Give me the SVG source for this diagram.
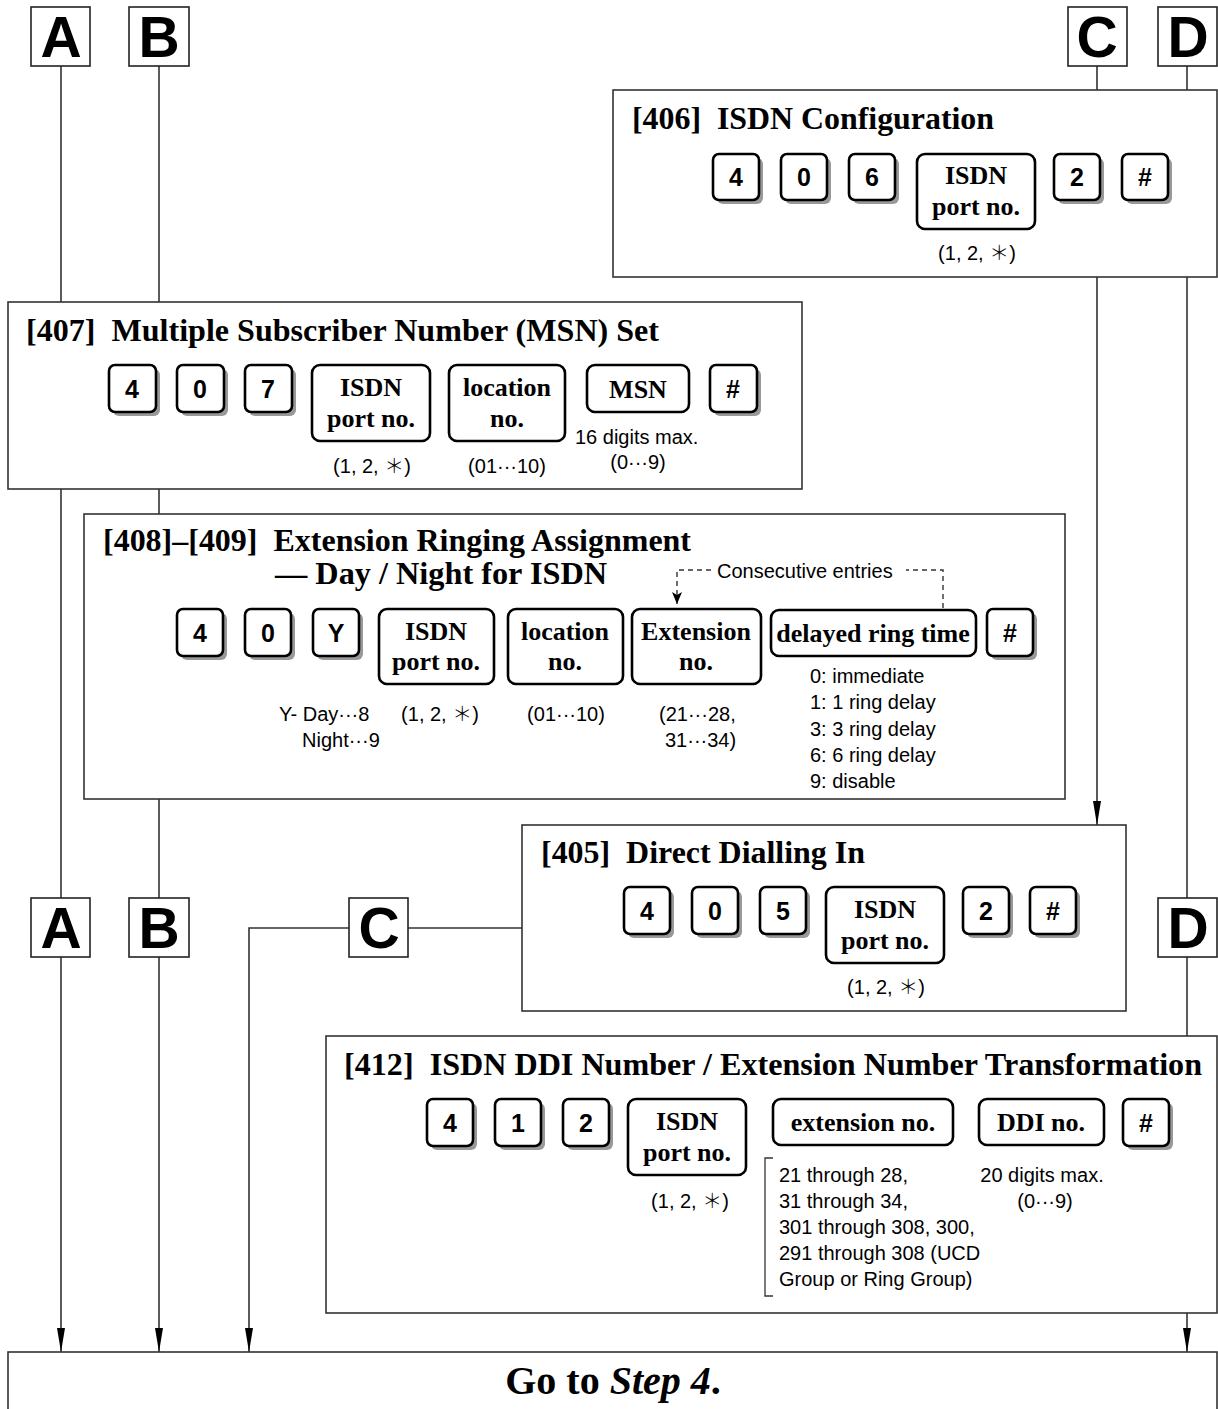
<svg xmlns="http://www.w3.org/2000/svg" width="1218" height="1409" viewBox="0 0 1218 1409">
<style>
.frame{fill:#fff;stroke:#333;stroke-width:1.6}
.lbox{fill:#fff;stroke:#222;stroke-width:1.6}
.big{font-family:"Liberation Sans",Arial,sans-serif;font-weight:bold;font-size:57px;text-anchor:middle;fill:#000}
.title{font-family:"Liberation Serif","Times New Roman",serif;font-weight:bold;font-size:32px;fill:#000}
.key{fill:#fff;stroke:#000;stroke-width:2.6}
.sh{fill:#999}
.kd{font-family:"Liberation Sans",Arial,sans-serif;font-weight:bold;font-size:25px;text-anchor:middle;fill:#000}
.kw{font-family:"Liberation Serif","Times New Roman",serif;font-weight:bold;font-size:26px;text-anchor:middle;fill:#000}
.lbl{font-family:"Liberation Sans",Arial,"DejaVu Sans",sans-serif;font-size:20px;fill:#000}
.ast{font-family:"Noto Sans CJK JP","DejaVu Sans",sans-serif;font-weight:300}
.mid{text-anchor:middle}
.conn{fill:none;stroke:#333;stroke-width:1.6}
.dash{fill:none;stroke:#333;stroke-width:1.4;stroke-dasharray:5 4}
.go{font-family:"Liberation Serif","Times New Roman",serif;font-weight:bold;font-size:40px;text-anchor:middle;fill:#000}
</style>
<defs>
<marker id="arr" viewBox="0 0 24 8" refX="24" refY="4" markerWidth="24" markerHeight="8" markerUnits="userSpaceOnUse" orient="auto">
<path d="M0,0 L24,4 L0,8 z" fill="#000"/>
</marker>
<marker id="arrs" viewBox="0 0 12 10" refX="12" refY="5" markerWidth="12" markerHeight="10" markerUnits="userSpaceOnUse" orient="auto">
<path d="M0,0 L12,5 L0,10 L3,5 z" fill="#000"/>
</marker>
</defs>

<g id="connectors">
<line class="conn" x1="61" y1="66" x2="61" y2="1352" marker-end="url(#arr)"/>
<line class="conn" x1="159" y1="66" x2="159" y2="1352" marker-end="url(#arr)"/>
<line class="conn" x1="1097" y1="66" x2="1097" y2="825" marker-end="url(#arr)"/>
<line class="conn" x1="1187" y1="66" x2="1187" y2="1352" marker-end="url(#arr)"/>
<path class="conn" d="M522,928 H249 V1352" marker-end="url(#arr)"/>
</g>

<g id="letters-top">
<g id="A1"><rect class="lbox" x="31" y="7" width="59" height="59"/><text class="big" x="61" y="57">A</text></g>
<g id="B1"><rect class="lbox" x="129" y="7" width="60" height="59"/><text class="big" x="159" y="57">B</text></g>
<g id="C1"><rect class="lbox" x="1068" y="7" width="59" height="59"/><text class="big" x="1097" y="57">C</text></g>
<g id="D1"><rect class="lbox" x="1158" y="7" width="59" height="59"/><text class="big" x="1188" y="57">D</text></g>
</g>

<g id="n406">
<rect class="frame" x="613" y="90" width="604" height="187"/>
<text class="title" x="632" y="129" textLength="362" lengthAdjust="spacingAndGlyphs">[406]&#160; ISDN Configuration</text>
<rect class="sh" x="717" y="158" width="46" height="46" rx="6"/><rect class="key" x="713" y="154" width="46" height="46" rx="6"/><text class="kd" x="736" y="186">4</text>
<rect class="sh" x="785" y="158" width="46" height="46" rx="6"/><rect class="key" x="781" y="154" width="46" height="46" rx="6"/><text class="kd" x="804" y="186">0</text>
<rect class="sh" x="853" y="158" width="46" height="46" rx="6"/><rect class="key" x="849" y="154" width="46" height="46" rx="6"/><text class="kd" x="872" y="186">6</text>
<rect class="key" x="917" y="154" width="118" height="75" rx="8"/><text class="kw" x="976" y="184">ISDN</text><text class="kw" x="976" y="215">port no.</text>
<rect class="sh" x="1058" y="158" width="46" height="46" rx="6"/><rect class="key" x="1054" y="154" width="46" height="46" rx="6"/><text class="kd" x="1077" y="186">2</text>
<rect class="sh" x="1126" y="158" width="46" height="46" rx="6"/><rect class="key" x="1122" y="154" width="46" height="46" rx="6"/><text class="kd" x="1145" y="186">#</text>
<text class="lbl mid" x="977" y="260">(1, 2, <tspan class="ast">＊</tspan>)</text>
</g>

<g id="n407">
<rect class="frame" x="8" y="302" width="794" height="187"/>
<text class="title" x="26" y="341" textLength="633" lengthAdjust="spacingAndGlyphs">[407]&#160; Multiple Subscriber Number (MSN) Set</text>
<rect class="sh" x="113" y="369" width="47" height="47" rx="6"/><rect class="key" x="109" y="365" width="47" height="47" rx="6"/><text class="kd" x="132" y="398">4</text>
<rect class="sh" x="181" y="369" width="47" height="47" rx="6"/><rect class="key" x="177" y="365" width="47" height="47" rx="6"/><text class="kd" x="200" y="398">0</text>
<rect class="sh" x="249" y="369" width="47" height="47" rx="6"/><rect class="key" x="245" y="365" width="47" height="47" rx="6"/><text class="kd" x="268" y="398">7</text>
<rect class="key" x="312" y="365" width="118" height="76" rx="8"/><text class="kw" x="371" y="396">ISDN</text><text class="kw" x="371" y="427">port no.</text>
<rect class="key" x="449" y="365" width="116" height="76" rx="8"/><text class="kw" x="507" y="396">location</text><text class="kw" x="507" y="427">no.</text>
<rect class="key" x="587" y="365" width="102" height="47" rx="8"/><text class="kw" x="638" y="398">MSN</text>
<rect class="sh" x="714" y="369" width="47" height="47" rx="6"/><rect class="key" x="710" y="365" width="47" height="47" rx="6"/><text class="kd" x="733" y="398">#</text>
<text class="lbl mid" x="372" y="473">(1, 2, <tspan class="ast">＊</tspan>)</text>
<text class="lbl mid" x="507" y="473">(01···10)</text>
<text class="lbl" x="575" y="444">16 digits max.</text>
<text class="lbl mid" x="638" y="469">(0···9)</text>
</g>

<g id="n408">
<rect class="frame" x="84" y="514" width="981" height="285"/>
<text class="title" x="103" y="551" textLength="588" lengthAdjust="spacingAndGlyphs">[408]–[409]&#160; Extension Ringing Assignment</text>
<text class="title" x="275" y="584" textLength="332" lengthAdjust="spacingAndGlyphs">— Day / Night for ISDN</text>
<path class="dash" d="M943,608 V570 H906"/>
<path class="dash" d="M711,570 H677 V604" marker-end="url(#arrs)"/>
<text class="lbl" x="717" y="578">Consecutive entries</text>
<rect class="sh" x="181" y="613" width="46" height="47" rx="6"/><rect class="key" x="177" y="609" width="46" height="47" rx="6"/><text class="kd" x="200" y="642">4</text>
<rect class="sh" x="249" y="613" width="46" height="47" rx="6"/><rect class="key" x="245" y="609" width="46" height="47" rx="6"/><text class="kd" x="268" y="642">0</text>
<rect class="sh" x="317" y="613" width="46" height="47" rx="6"/><rect class="key" x="313" y="609" width="46" height="47" rx="6"/><text class="kd" x="336" y="642">Y</text>
<rect class="key" x="379" y="609" width="115" height="75" rx="8"/><text class="kw" x="436" y="640">ISDN</text><text class="kw" x="436" y="670">port no.</text>
<rect class="key" x="508" y="609" width="115" height="75" rx="8"/><text class="kw" x="565" y="640">location</text><text class="kw" x="565" y="670">no.</text>
<rect class="key" x="632" y="609" width="129" height="75" rx="8"/><text class="kw" x="696" y="640">Extension</text><text class="kw" x="696" y="670">no.</text>
<rect class="key" x="771" y="610" width="205" height="46" rx="8"/><text class="kw" x="873" y="642">delayed ring time</text>
<rect class="sh" x="991" y="613" width="46" height="47" rx="6"/><rect class="key" x="987" y="609" width="46" height="47" rx="6"/><text class="kd" x="1010" y="642">#</text>
<text class="lbl" x="279" y="721">Y- Day···8</text>
<text class="lbl" x="302" y="747">Night···9</text>
<text class="lbl mid" x="440" y="721">(1, 2, <tspan class="ast">＊</tspan>)</text>
<text class="lbl mid" x="566" y="721">(01···10)</text>
<text class="lbl" x="659" y="721">(21···28,</text>
<text class="lbl" x="665" y="747">31···34)</text>
<text class="lbl" x="810" y="683">0: immediate</text>
<text class="lbl" x="810" y="709">1: 1 ring delay</text>
<text class="lbl" x="810" y="736">3: 3 ring delay</text>
<text class="lbl" x="810" y="762">6: 6 ring delay</text>
<text class="lbl" x="810" y="788">9: disable</text>
</g>

<g id="letters-mid">
<g id="A2"><rect class="lbox" x="31" y="898" width="59" height="59"/><text class="big" x="61" y="948">A</text></g>
<g id="B2"><rect class="lbox" x="129" y="898" width="60" height="59"/><text class="big" x="159" y="948">B</text></g>
<g id="C2"><rect class="lbox" x="349" y="898" width="59" height="59"/><text class="big" x="379" y="948">C</text></g>
<g id="D2"><rect class="lbox" x="1158" y="898" width="59" height="59"/><text class="big" x="1188" y="948">D</text></g>
</g>

<g id="n405">
<rect class="frame" x="522" y="825" width="604" height="186"/>
<text class="title" x="541" y="863" textLength="324" lengthAdjust="spacingAndGlyphs">[405]&#160; Direct Dialling In</text>
<rect class="sh" x="628" y="891" width="46" height="47" rx="6"/><rect class="key" x="624" y="887" width="46" height="47" rx="6"/><text class="kd" x="647" y="920">4</text>
<rect class="sh" x="696" y="891" width="46" height="47" rx="6"/><rect class="key" x="692" y="887" width="46" height="47" rx="6"/><text class="kd" x="715" y="920">0</text>
<rect class="sh" x="764" y="891" width="46" height="47" rx="6"/><rect class="key" x="760" y="887" width="46" height="47" rx="6"/><text class="kd" x="783" y="920">5</text>
<rect class="key" x="826" y="887" width="118" height="76" rx="8"/><text class="kw" x="885" y="918">ISDN</text><text class="kw" x="885" y="949">port no.</text>
<rect class="sh" x="967" y="891" width="46" height="47" rx="6"/><rect class="key" x="963" y="887" width="46" height="47" rx="6"/><text class="kd" x="986" y="920">2</text>
<rect class="sh" x="1034" y="891" width="46" height="47" rx="6"/><rect class="key" x="1030" y="887" width="46" height="47" rx="6"/><text class="kd" x="1053" y="920">#</text>
<text class="lbl mid" x="886" y="994">(1, 2, <tspan class="ast">＊</tspan>)</text>
</g>

<g id="n412">
<rect class="frame" x="326" y="1036" width="891" height="277"/>
<text class="title" x="344" y="1075" textLength="858" lengthAdjust="spacingAndGlyphs">[412]&#160; ISDN DDI Number / Extension Number Transformation</text>
<rect class="sh" x="431" y="1103" width="46" height="47" rx="6"/><rect class="key" x="427" y="1099" width="46" height="47" rx="6"/><text class="kd" x="450" y="1132">4</text>
<rect class="sh" x="499" y="1103" width="46" height="47" rx="6"/><rect class="key" x="495" y="1099" width="46" height="47" rx="6"/><text class="kd" x="518" y="1132">1</text>
<rect class="sh" x="567" y="1103" width="46" height="47" rx="6"/><rect class="key" x="563" y="1099" width="46" height="47" rx="6"/><text class="kd" x="586" y="1132">2</text>
<rect class="key" x="628" y="1099" width="118" height="76" rx="8"/><text class="kw" x="687" y="1130">ISDN</text><text class="kw" x="687" y="1161">port no.</text>
<rect class="key" x="773" y="1099" width="180" height="46" rx="8"/><text class="kw" x="863" y="1131">extension no.</text>
<rect class="key" x="979" y="1099" width="125" height="46" rx="8"/><text class="kw" x="1041" y="1131">DDI no.</text>
<rect class="sh" x="1127" y="1103" width="46" height="47" rx="6"/><rect class="key" x="1123" y="1099" width="46" height="47" rx="6"/><text class="kd" x="1146" y="1132">#</text>
<text class="lbl mid" x="690" y="1208">(1, 2, <tspan class="ast">＊</tspan>)</text>
<path class="conn" d="M773,1158 H765 V1296 H773" style="stroke-width:1.3"/>
<text class="lbl" x="779" y="1182">21 through 28,</text>
<text class="lbl" x="779" y="1208">31 through 34,</text>
<text class="lbl" x="779" y="1234">301 through 308, 300,</text>
<text class="lbl" x="779" y="1260">291 through 308 (UCD</text>
<text class="lbl" x="779" y="1286">Group or Ring Group)</text>
<text class="lbl mid" x="1042" y="1182">20 digits max.</text>
<text class="lbl mid" x="1045" y="1208">(0···9)</text>
</g>

<g id="go">
<rect class="frame" x="8" y="1352" width="1209" height="62"/>
<text class="go" x="613" y="1394">Go to <tspan font-style="italic">Step 4</tspan>.</text>
</g>
</svg>
